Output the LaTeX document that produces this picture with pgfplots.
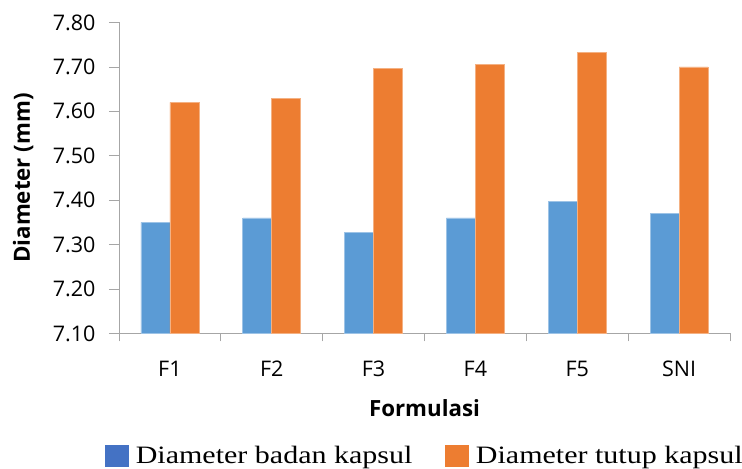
\documentclass[border=0pt]{standalone}
\usepackage{fontspec}
\setsansfont{Open Sans}
\newfontfamily\legfont[FakeStretch=1.2]{Liberation Serif}
\usepackage{pgfplots}
\pgfplotsset{compat=1.18}
\definecolor{barblue}{HTML}{5B9BD5}
\definecolor{barorange}{HTML}{ED7D31}
\definecolor{legblue}{HTML}{4472C4}
\definecolor{axgray}{HTML}{A6A6A6}
\begin{document}
\begin{tikzpicture}
\begin{axis}[
    name=ax,
    scale only axis,
    width=611pt, height=311pt,
    ybar=0pt,
    bar width=29pt,
    xmin=-0.5, xmax=5.5,
    ymin=7.1, ymax=7.8,
    ytick={7.1,7.2,...,7.81},
    xtick={0,...,5},
    xticklabels={F1,F2,F3,F4,F5,SNI},
    minor xtick={-0.5,0.5,...,5.6},
    major x tick style={draw=none},
    minor tick length=8pt,
    major tick length=10pt,
    tick align=outside,
    tick pos=left,
    axis x line*=bottom,
    axis y line*=left,
    axis line style={axgray, line width=0.8pt},
    every tick/.style={axgray, line width=0.8pt},
    /pgf/number format/.cd, fixed, fixed zerofill, precision=2, assume math mode=true,
    /pgfplots/.cd,
    ticklabel style={font=\sffamily\fontsize{21.5}{25}\selectfont},
    yticklabel style={anchor=east, xshift=-10pt},
    xticklabel style={anchor=center, yshift=-25pt},
    xlabel={\sffamily\bfseries\fontsize{22.3}{26}\selectfont Formulasi},
    ylabel={\sffamily\bfseries\fontsize{22.3}{26}\selectfont Diameter (mm)},
    xlabel style={at={(axis description cs:0.5,-0.241)}, anchor=center},
    ylabel style={at={(axis description cs:-0.157,0.5)}, anchor=center},
    legend columns=2,
    legend style={at={(0.499,-0.392)}, anchor=center, draw=none, inner sep=0pt,
        font=\legfont\fontsize{25}{28}\selectfont,
        nodes={inner xsep=0pt},
        /tikz/every odd column/.append style={column sep=7pt},
        /tikz/every even column/.append style={column sep=33pt}},
]
\addplot[fill=barblue, draw=barblue!60!white, line width=0.6pt,
    legend image code/.code={\fill[legblue] (0pt,-10.5pt) rectangle (23pt,10.5pt);}] coordinates {
    (0,7.35) (1,7.36) (2,7.327) (3,7.36) (4,7.397) (5,7.37)
};
\addlegendentry{Diameter badan kapsul}
\addplot[fill=barorange, draw=barorange!60!white, line width=0.6pt,
    legend image code/.code={\fill[barorange] (0pt,-10.5pt) rectangle (23pt,10.5pt);}] coordinates {
    (0,7.62) (1,7.63) (2,7.697) (3,7.706) (4,7.733) (5,7.70)
};
\addlegendentry{Diameter tutup kapsul}
\end{axis}
\path (ax.south west) ++(-119pt,-134.7pt) coordinate (bl);
\path (ax.north east) ++(12pt,22.5pt) coordinate (tr);
\pgfresetboundingbox
\path[use as bounding box] (bl) rectangle (tr);
\end{tikzpicture}
\end{document}
